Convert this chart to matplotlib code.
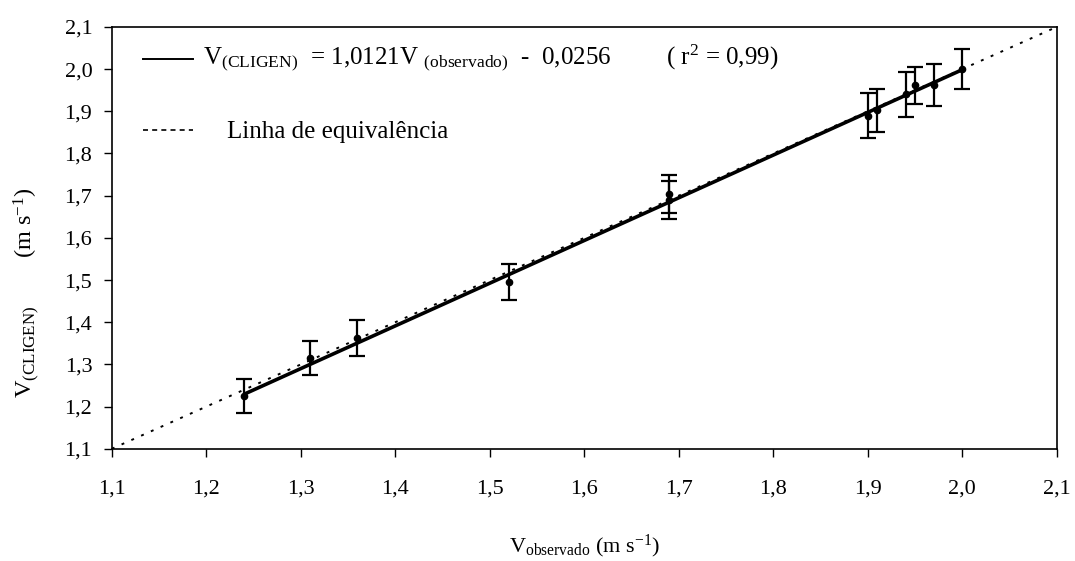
import numpy as np
import matplotlib.pyplot as plt
from matplotlib.ticker import FuncFormatter

plt.rcParams['font.family'] = ['Liberation Serif', 'DejaVu Serif']
plt.rcParams['mathtext.fontset'] = 'custom'
plt.rcParams['mathtext.rm'] = 'Liberation Serif'
plt.rcParams['mathtext.it'] = 'Liberation Serif'

# observed vs CLIGEN velocities (m s-1) with error bars
v_obs = [1.24, 1.31, 1.36, 1.52, 1.69, 1.69, 1.90, 1.91, 1.94, 1.95, 1.97, 2.00]
v_cligen = [1.225, 1.315, 1.362, 1.495, 1.703, 1.690, 1.890, 1.902, 1.940, 1.962, 1.962, 2.000]
v_err = [0.040, 0.040, 0.043, 0.043, 0.045, 0.045, 0.053, 0.050, 0.053, 0.044, 0.050, 0.047]

slope = 1.0121
intercept = -0.0256
lims = [1.1, 2.1]

fig = plt.figure(figsize=(10.75, 5.61), dpi=100)
ax = fig.add_axes([0.104, 0.2, 0.879, 0.752])

# equivalence line
ax.plot(lims, lims, color='black', lw=1.4, linestyle=(0, (1.5, 4)))

# fitted regression
xfit = np.array([min(v_obs), max(v_obs)])
ax.plot(xfit, slope * xfit + intercept, color='black', lw=2.6, solid_capstyle='butt')

ax.errorbar(v_obs, v_cligen, yerr=v_err, fmt='o', color='black', ms=4.5,
            ecolor='black', elinewidth=1.6, capsize=5.5, capthick=1.6)

ax.set_xlim(lims)
ax.set_ylim(lims)
ticks = np.round(np.arange(1.1, 2.11, 0.1), 1)
ax.set_xticks(ticks)
ax.set_yticks(ticks)
comma = FuncFormatter(lambda v, p: f'{v:.1f}'.replace('.', ','))
ax.xaxis.set_major_formatter(comma)
ax.yaxis.set_major_formatter(comma)
ax.tick_params(axis='x', direction='out', length=6, width=1, pad=16, labelsize=16)
ax.tick_params(axis='y', direction='out', length=6, width=1, pad=8, labelsize=16)
for s in ax.spines.values():
    s.set_linewidth(1.2)

ax.set_xlabel(r'V$_{\mathrm{observado}}$ (m s$^{\mathrm{-1}}$)', fontsize=16, labelpad=25)
ax.set_ylabel(r'V$_{\mathrm{(CLIGEN)}}$        (m s$^{\mathrm{-1}}$)', fontsize=17.5)
ax.yaxis.set_label_coords(-0.074, 0.37)

# legend drawn by hand
ax.plot([1.133, 1.186], [2.025, 2.025], color='black', lw=1.4)
ax.text(1.197, 2.027,
        r'V$_{\mathrm{(CLIGEN)}}$  = 1,0121V $_{\mathrm{(observado)}}$  -  0,0256         ( r$^{\mathrm{2}}$ = 0,99)',
        fontsize=18, va='center', ha='left')
ax.plot([1.133, 1.186], [1.855, 1.855], color='black', lw=1.2, linestyle=(0, (3, 2.5)))
ax.text(1.222, 1.85, 'Linha de equivalência', fontsize=18, va='center', ha='left')

fig.savefig('out.png', dpi=100)
